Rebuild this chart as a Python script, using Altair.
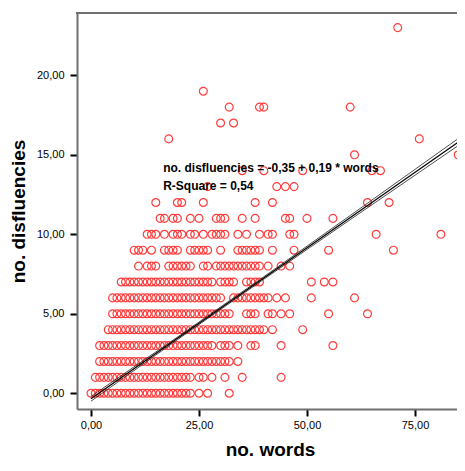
import altair as alt
import pandas as pd

# Observed points: no. disfluencies (row) -> list of no. words values
rows = {
    0: list(range(0, 24)) + [25, 27, 32],
    1: list(range(1, 24)) + [25, 26, 28, 31, 35, 44],
    2: list(range(2, 33)) + [34],
    3: list(range(2, 29)) + [30, 31, 32, 34, 37, 38, 44, 56],
    4: list(range(4, 41)) + [42, 49],
    5: list(range(5, 33)) + [36, 37, 38, 41, 42, 44, 46, 55, 64],
    6: list(range(5, 31)) + list(range(33, 41)) + [41, 43, 45, 51, 61],
    7: list(range(7, 29)) + [30, 31, 32, 33, 36, 37, 38, 39, 51, 54, 56],
    8: [11, 13, 14, 15, 18, 19, 20, 21, 22, 23, 26, 27] + list(range(29, 40)) + [41, 44, 46],
    9: [10, 11, 12, 14, 17, 18, 19, 20, 23, 24, 25, 26, 27, 30, 34, 35, 36, 37, 38, 39, 42, 47, 55, 70],
    10: [13, 14, 15, 17, 19, 20, 21, 23, 24, 26, 28, 29, 30, 31, 34, 36, 39, 41, 42, 46, 47, 66, 81],
    11: [16, 17, 19, 20, 23, 25, 29, 30, 31, 35, 38, 45, 46, 50, 56],
    12: [15, 20, 21, 26, 38, 42, 64, 69],
    13: [27, 43, 45, 47],
    14: [35, 40, 49, 65, 67],
    15: [61, 85],
    16: [18, 76],
    17: [30, 33],
    18: [32, 39, 40, 60],
    19: [26],
    23: [71],
}

words = []
disfl = []
for yv, xs in rows.items():
    for xv in xs:
        words.append(xv)
        disfl.append(yv)
points = pd.DataFrame({"words": words, "disfluencies": disfl})

# Regression line and its mean confidence band
reg_x = [0, 85]
reg_y = [-0.35, 15.80]
ci_x = [0, 20, 40, 60, 85]
ci_upper = [-0.20, 3.53, 7.33, 11.18, 16.02]
ci_lower = [-0.50, 3.37, 7.17, 10.92, 15.58]

reg = pd.DataFrame({"words": reg_x, "disfluencies": reg_y})
ci = pd.DataFrame({
    "words": ci_x * 2,
    "disfluencies": ci_upper + ci_lower,
    "band": ["upper"] * len(ci_x) + ["lower"] * len(ci_x),
})

ann_text = ["no. disfluencies = -0,35 + 0,19 * words", "R-Square = 0,54"]
ann_x = [16.7, 16.7]
ann_y = [14.2, 13.05]
ann = pd.DataFrame({"text": ann_text, "words": ann_x, "disfluencies": ann_y})

W = 380
H = 396
x_dom = [-3.24, 84.72]
y_dom = [-0.99, 23.92]
x_ticks = [0, 25, 50, 75]
y_ticks = [0, 5, 10, 15, 20]
lbl = "replace(format(datum.value, '.2f'), '.', ',')"
frame_col = "#707070"

xs = alt.Scale(domain=x_dom, nice=False, zero=False)
ys = alt.Scale(domain=y_dom, nice=False, zero=False)

x_axis = alt.Axis(
    values=x_ticks, labelExpr=lbl, title="no. words", grid=False,
    domain=True, domainColor=frame_col, domainWidth=2,
    tickSize=7, tickWidth=2, tickColor="black", labelFontSize=11, labelFont="Liberation Sans",
    labelColor="black", labelPadding=3, titleFontSize=19, titleFont="Liberation Sans",
    titleFontWeight="bold", titleColor="black", titleX=193, titleY=40,
    titleBaseline="middle", titleAlign="center",
)
y_axis = alt.Axis(
    values=y_ticks, labelExpr=lbl, title="no. disfluencies", grid=False,
    domain=True, domainColor=frame_col, domainWidth=2,
    tickSize=7, tickWidth=2, tickColor="black", labelFontSize=11, labelFont="Liberation Sans",
    labelColor="black", labelPadding=6, titleFontSize=19, titleFont="Liberation Sans",
    titleFontWeight="bold", titleColor="black", titleAngle=-90, titleX=-59, titleY=198,
    titleBaseline="middle", titleAlign="center",
)

pts = alt.Chart(points).mark_point(
    shape="circle", filled=False, color="#ff3b3b", size=62, strokeWidth=1.2, opacity=1
).encode(
    x=alt.X("words:Q", scale=xs, axis=x_axis),
    y=alt.Y("disfluencies:Q", scale=ys, axis=y_axis),
)

ci_lines = alt.Chart(ci).mark_line(color="#222222", strokeWidth=0.8).encode(
    x=alt.X("words:Q", scale=xs),
    y=alt.Y("disfluencies:Q", scale=ys),
    detail="band:N",
)

reg_line = alt.Chart(reg).mark_line(color="black", strokeWidth=1.3).encode(
    x=alt.X("words:Q", scale=xs),
    y=alt.Y("disfluencies:Q", scale=ys),
)

txt = alt.Chart(ann).mark_text(
    align="left", baseline="middle", font="Liberation Sans", fontSize=12,
    fontWeight="bold", color="black"
).encode(
    x=alt.X("words:Q", scale=xs),
    y=alt.Y("disfluencies:Q", scale=ys),
    text="text:N",
)

top_frame = alt.Chart(pd.DataFrame({"k": [0]})).mark_rule(
    color=frame_col, strokeWidth=2
).encode(x=alt.value(-1), x2=alt.value(W), y=alt.value(0))

chart = alt.layer(pts, ci_lines, reg_line, txt, top_frame).properties(
    width=W, height=H,
    autosize=alt.AutoSizeParams(type="none"),
    padding={"left": 69, "top": 5, "right": 0, "bottom": 54},
    background="white",
).configure_view(stroke=None)

chart.save("out.html", embed_options={"renderer": "svg", "actions": False})
